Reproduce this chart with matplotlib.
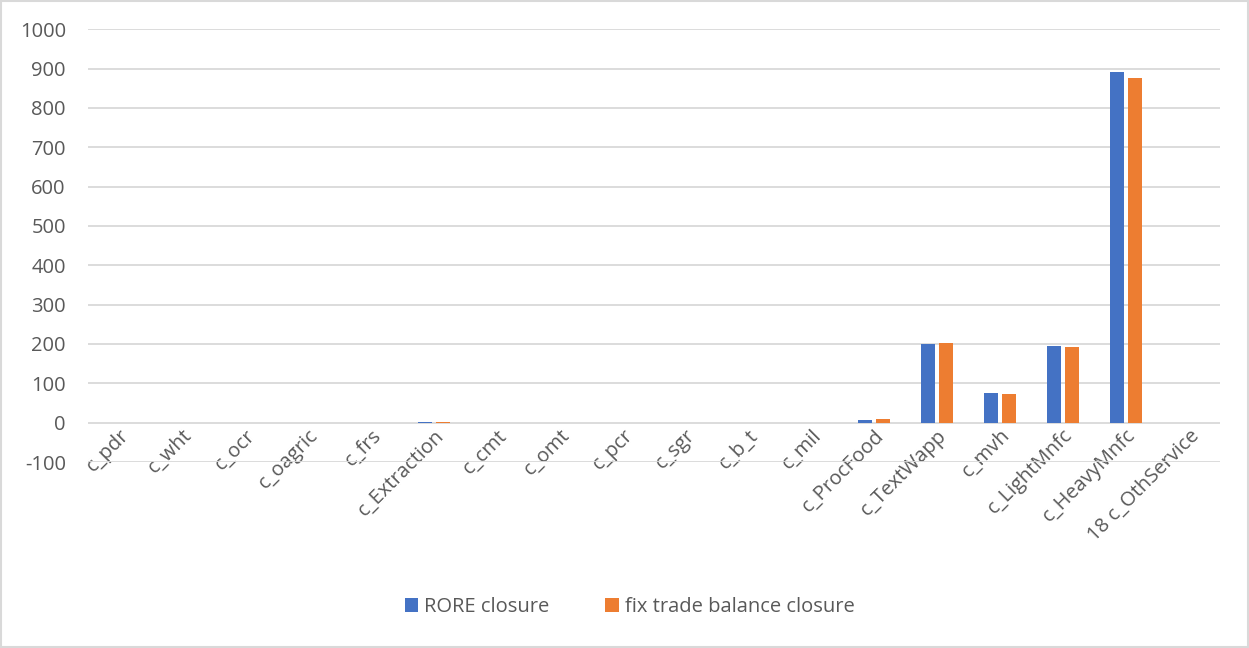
import matplotlib.pyplot as plt
import numpy as np

categories = ['c_pdr', 'c_wht', 'c_ocr', 'c_oagric', 'c_frs', 'c_Extraction', 'c_cmt',
              'c_omt', 'c_pcr', 'c_sgr', 'c_b_t', 'c_mil', 'c_ProcFood', 'c_TextWapp',
              'c_mvh', 'c_LightMnfc', 'c_HeavyMnfc', '18 c_OthService']
rore = [0, 0, 0, 0, 0, 1, 0, 0, 0, 0, 0, 0, 8, 200, 75.5, 194, 890, 0]
fixtb = [0, 0, 0, 0, 0, 1, 0, 0, 0, 0, 0, 0, 8.5, 203, 73, 191.5, 876, 0]
yticks = np.arange(-100, 1001, 100)

plt.rcParams['font.family'] = ['Open Sans', 'DejaVu Sans']
plt.rcParams['axes.unicode_minus'] = False
txt = '#595959'

fig = plt.figure(figsize=(12.49, 6.48), dpi=100)
ax = fig.add_axes([0.0705, 0.287, 0.9065, 0.668])

x = np.arange(len(categories))
w = 0.22
off = 0.143
ax.bar(x - off, rore, w, color='#4472c4', label='RORE closure', zorder=3)
ax.bar(x + off, fixtb, w, color='#ed7d31', label='fix trade balance closure', zorder=3)

ax.set_xlim(-0.5, len(categories) - 0.5)
ax.set_ylim(-100, 1000)
ax.set_yticks(yticks)
ax.yaxis.grid(True, color='#d9d9d9', linewidth=1.3, zorder=0)
ax.tick_params(axis='y', length=0, labelsize=14.5, labelcolor=txt, pad=16)

# category labels hang off the zero line, like excel does
ax.spines['bottom'].set_position(('data', 0))
for s in ['top', 'right', 'left', 'bottom']:
    ax.spines[s].set_visible(False)
ax.set_xticks(x)
ax.set_xticklabels(categories, rotation=45, ha='right', rotation_mode='anchor',
                   fontsize=14.5, color=txt)
ax.tick_params(axis='x', length=0, pad=2)

fig.legend(loc='center', bbox_to_anchor=(0.504, 0.063), ncol=2, frameon=False,
           fontsize=14.5, labelcolor=txt, handlelength=0.65, handleheight=0.65,
           columnspacing=2.8, handletextpad=0.3)

fig.patches.append(plt.Rectangle((0.001, 0.001), 0.998, 0.998, transform=fig.transFigure,
                                 fill=False, edgecolor='#d9d9d9', linewidth=1.5))

fig.savefig('out.png', dpi=100)
